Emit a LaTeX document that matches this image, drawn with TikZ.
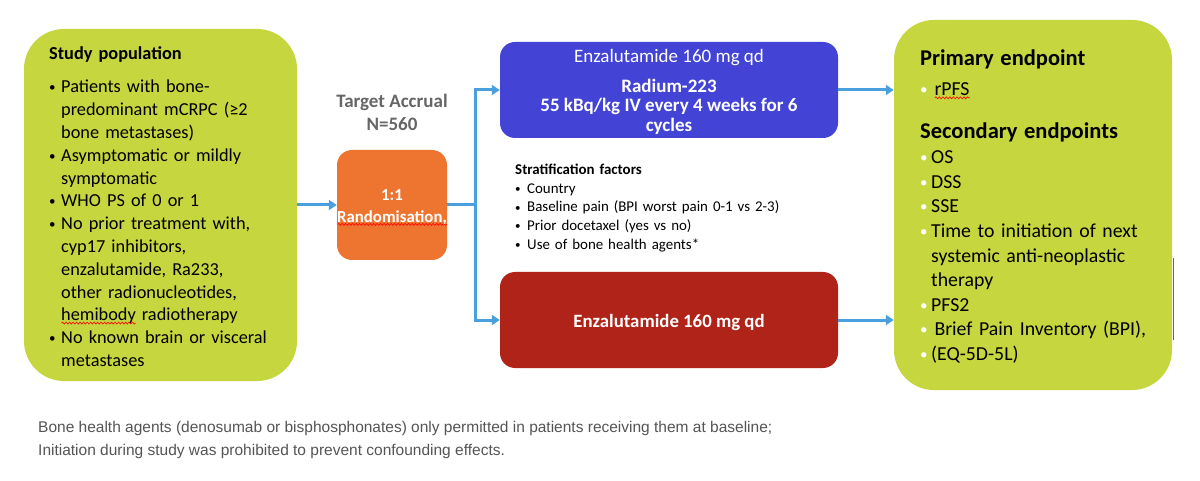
\documentclass[tikz,border=0pt]{standalone}
\usepackage{fontspec}
\setmainfont{Carlito}
\newfontfamily\notefont{Liberation Sans}
\usetikzlibrary{arrows.meta,positioning,calc,decorations.pathmorphing}
\definecolor{limebox}{HTML}{C6D63E}
\definecolor{armblue}{HTML}{4343D6}
\definecolor{armred}{HTML}{B02318}
\definecolor{randorange}{HTML}{EE7530}
\definecolor{linkblue}{HTML}{4AA0DE}
\definecolor{notegray}{HTML}{555555}
\definecolor{accgray}{HTML}{666666}

% bullet items; continuation lines are indented by hand
\newcommand{\bitem}[1]{\par\noindent\makebox[12pt][l]{\raisebox{1pt}{\fontsize{13}{13}\selectfont\textbullet}}#1}
\newcommand{\sitem}[1]{\par\noindent\makebox[12pt][l]{\raisebox{0.5pt}{\fontsize{11}{11}\selectfont\textbullet}}#1}
\newcommand{\witem}[1]{\par\noindent\makebox[11pt][l]{\raisebox{1pt}{\textcolor{white}{\fontsize{15}{15}\selectfont\textbullet}}}#1}
\newcommand{\cont}{\\\hspace*{12pt}}
\newcommand{\wcont}{\\\hspace*{11pt}}
% red wavy spell-check mark
\newcommand{\spellmark}[1]{\setbox0\hbox{#1}\rlap{\raisebox{-3.5pt}{\tikz[x=1pt,y=1pt]
  \draw[red, line width=0.6pt, decorate, decoration={snake, amplitude=1pt, segment length=3.5pt}]
  (0,0) -- (\the\wd0,0);}}\box0\relax}

\begin{document}
\begin{tikzpicture}[
  x=1pt, y=-1pt,
  panel/.style={fill=limebox, rounded corners=40pt, inner sep=0pt},
  arm/.style={rounded corners=15pt, inner sep=0pt, minimum width=338pt, minimum height=96pt},
  armtext/.style={text=white, align=center, inner sep=0pt},
  listtext/.style={anchor=north west, inner sep=0pt, align=left},
  link/.style={draw=linkblue, line width=3pt, -{Triangle[length=8pt,width=10pt]}},
  linkline/.style={draw=linkblue, line width=3pt}
]
\useasboundingbox[fill=white] (0,0) rectangle (1200,481);

% population and endpoints panels
\node[panel, minimum width=273pt, minimum height=352pt] (pop) at (160.5,205) {};
\node[panel, minimum width=278pt, minimum height=370pt] (endp) at (1033,205) {};
\draw[gray!80!black, line width=1pt] (1173,258) -- (1173,340);

\node[listtext, text width=245pt, font=\fontsize{18.3}{22.8}\selectfont] (poptext) at (49,46) {%
  \textbf{Study population}\par\vspace{11pt}
  \bitem{Patients with bone-\cont predominant mCRPC (≥2\cont bone metastases)}
  \bitem{Asymptomatic or mildly\cont symptomatic}
  \bitem{WHO PS of 0 or 1}
  \bitem{No prior treatment with,\cont cyp17 inhibitors,\cont enzalutamide, Ra233,\cont other radionucleotides,\cont \spellmark{hemibody} radiotherapy}
  \bitem{No known brain or visceral\cont metastases}};

% randomisation
\node[fill=randorange, rounded corners=15pt, minimum size=110pt, inner sep=0pt] (rand) at (392,205) {};
\node[armtext, font=\fontsize{16.8}{22}\selectfont\bfseries] (randtext) at ([yshift=-2.5pt]rand.center)
  {1:1\\\spellmark{Randomisation,}};
\node[above=16pt of rand, align=center, text=accgray,
  font=\fontsize{19}{23}\selectfont\bfseries] (target) {Target Accrual\\N=560};

% treatment arms
\node[arm, fill=armblue] (combo) at (669,90) {};
\node[armtext, font=\fontsize{19}{19.5}\selectfont] (combotext) at ([yshift=-2pt]combo.center)
  {Enzalutamide 160 mg qd\\[10pt]\textbf{Radium-223}\\\textbf{55 kBq/kg IV every 4 weeks for 6}\\\textbf{cycles}};
\node[arm, fill=armred] (mono) at (669,320) {};
\node[armtext, font=\fontsize{18.8}{20}\selectfont\bfseries] (monotext) at ([yshift=-2pt]mono.center)
  {Enzalutamide 160 mg qd};

\node[listtext, text width=330pt, font=\fontsize{14.9}{18.6}\selectfont] (strat) at (515,164) {%
  \textbf{Stratification factors}
  \sitem{Country}
  \sitem{Baseline pain (BPI worst pain 0-1 vs 2-3)}
  \sitem{Prior docetaxel (yes vs no)}
  \sitem{Use of bone health agents*}};

% endpoints
\node[listtext, text width=250pt, font=\fontsize{19.8}{24.6}\selectfont] (endtext) at (920,50) {%
  {\fontsize{22.5}{24}\selectfont\bfseries Primary endpoint}\par\vspace{5pt}
  \witem{\,\spellmark{rPFS}}\par\vspace{18pt}
  {\fontsize{22.5}{24}\selectfont\bfseries Secondary endpoints}\par\vspace{1pt}
  \witem{OS}
  \witem{DSS}
  \witem{SSE}
  \witem{Time to initiation of next\wcont systemic anti-neoplastic\wcont therapy}
  \witem{PFS2}
  \witem{\,Brief Pain Inventory (BPI),}
  \witem{(EQ-5D-5L)}};

% connectors
\coordinate (split) at (475,205);
\draw[link] (pop.east) -- (rand.west);
\draw[linkline] (rand.east) -- (split);
\draw[link] (split) |- (combo.west);
\draw[link] (split) |- (mono.west);
\draw[link] (combo.east) -- (combo.east -| endp.west);
\draw[link] (mono.east) -- (mono.east -| endp.west);

% footnote
\node[anchor=north west, inner sep=0pt, align=left, text=notegray,
  font=\notefont\fontsize{15.5}{23}\selectfont] (note) at (38,421)
  {Bone health agents (denosumab or bisphosphonates) only permitted in patients receiving them at baseline;\\
   Initiation during study was prohibited to prevent confounding effects.};
\end{tikzpicture}
\end{document}
